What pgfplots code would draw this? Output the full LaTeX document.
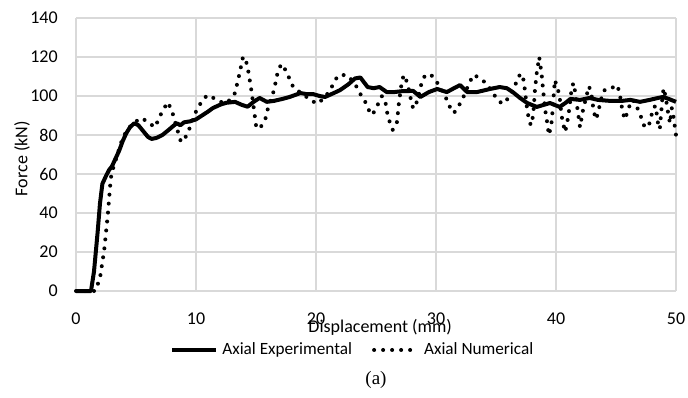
\documentclass[border=0pt]{standalone}
\usepackage{pgfplots}
\pgfplotsset{compat=1.18}
\usepackage{fontspec}
\setmainfont{Carlito}
\newfontfamily\seriffont{Liberation Serif}
\begin{document}
\begin{tikzpicture}
\begin{axis}[
 scale only axis, width=300pt, height=136.5pt,
 xmin=0, xmax=50, ymin=0, ymax=140,
 xtick={0,10,...,50}, ytick={0,20,...,140},
 grid=major, major grid style={draw=black!15, line width=0.75pt},
 axis line style={draw=none}, major tick length=0pt,
 tick label style={font=\fontsize{9}{10.8}\selectfont},
 /pgf/number format/assume math mode=true,
 xticklabel style={yshift=-7.3pt},
 yticklabel style={xshift=-5.6pt},
 xlabel={Displacement (mm)}, ylabel={Force (kN)},
 label style={font=\fontsize{9}{10.8}\selectfont},
 xlabel style={at={(axis description cs:0.507,-0.132)}, anchor=center},
 ylabel style={at={(axis description cs:-0.09,0.485)}, anchor=center},
 legend style={at={(axis description cs:0.463,-0.216)}, anchor=center, draw=none, fill=none,
   font=\fontsize{8.6}{10}\selectfont, /tikz/every even column/.append style={column sep=8pt}},
 legend columns=2,
 legend image code/.code={\draw[#1] (0pt,0pt) -- (22pt,0pt);},
 clip=false,
]
\addplot[black, line width=2pt, line join=round] coordinates {
(0,0) (1.25,0) (1.5,10) (1.8,30) (2.0,45) (2.2,55) (2.5,59) (2.75,62) (3.0,64) (3.3,68) (3.6,72) (3.9,77) (4.2,81) (4.5,84) (4.85,86) (5.2,85) (5.6,82) (6.0,79) (6.3,78) (6.7,78.5) (7.2,80) (7.7,82.5) (8.1,84.6) (8.4,86) (8.7,85) (9.0,86.5) (9.5,87) (10.0,88) (10.5,90) (11.0,92) (11.4,93.8) (12.0,95.5) (12.5,96.5) (13.25,97) (13.8,95.5) (14.3,94.5) (14.8,97) (15.3,99) (15.9,97) (16.5,97.5) (17.2,98.5) (17.8,99.5) (18.7,101.5) (19.2,101) (19.75,101) (20.3,100) (20.75,99.5) (21.3,101) (22,103) (22.7,106) (23.25,109) (23.7,109.5) (24.3,104.6) (24.8,104) (25.3,104.6) (25.9,102) (26.5,102) (27.2,102.5) (28.1,102.6) (28.7,99.5) (29.4,102) (30.1,103.6) (30.9,102) (31.5,104) (32,105.6) (32.6,102) (33.4,102) (34.5,103.6) (35.3,104.6) (35.9,104) (36.4,102) (37,99) (37.6,96.4) (38.4,94.4) (39,95.5) (39.5,96.4) (40.3,94.4) (40.8,96.5) (41.2,98.5) (42,98) (42.8,99) (43.5,98) (44.5,97.5) (45.5,97.5) (46.2,98) (47,97) (47.8,98) (48.5,99) (48.9,99.5) (49.4,98.5) (50,97)
};
\addlegendentry{Axial Experimental}
\addplot[black, line width=2pt, line cap=round, dash pattern=on 0pt off 4.5pt] coordinates {
(0,0) (1.6,0) (1.7,1.5) (2.0,6.7) (2.35,21) (2.65,39) (2.9,58) (3.1,63) (3.5,71) (3.75,76) (4.15,81.5) (4.6,85) (5.0,87) (5.5,88.7) (6.1,86) (6.6,84) (6.9,88.5) (7.25,92.8) (7.65,96.8) (8.0,92.3) (8.4,83.6) (8.75,76.4) (9.2,79.5) (9.5,84) (9.9,90.8) (10.25,95) (10.7,99) (11.0,100.5) (11.6,98.5) (12.0,97) (12.6,96.5) (13.25,101.5) (13.6,110.8) (13.9,119.5) (14.1,120) (14.35,113) (14.65,101.5) (15.0,85) (15.3,83) (15.8,88.7) (16.0,93.8) (16.5,103) (16.8,112) (17.1,116.4) (17.5,113) (17.8,108.7) (18.1,104.6) (18.75,101.5) (19.7,97.4) (20.1,96) (20.6,98.5) (21,101.5) (21.4,105.6) (21.8,110.3) (22.25,110.8) (22.7,110.3) (23.3,105.6) (23.7,101) (24.2,96) (24.5,91.3) (24.7,90.3) (25.1,95) (25.5,100) (25.8,96.4) (26.0,89) (26.4,82.6) (26.75,86.7) (26.9,96) (27.1,105) (27.3,110.8) (27.6,107) (27.9,98.5) (28.1,93.5) (28.45,97.5) (28.8,106.7) (29.1,110.8) (29.6,110.8) (30.25,105.6) (31.0,97) (31.25,92.8) (31.5,91.3) (31.9,95) (32.25,99) (32.7,105.6) (33.1,110.8) (33.4,110) (33.9,108) (34.3,105.6) (34.75,101.5) (35.2,97.4) (35.6,96) (36.1,99.5) (36.6,105.6) (36.9,110.3) (37.2,111.3) (37.35,106) (37.6,92.8) (37.75,88) (37.9,85) (38.1,90) (38.25,103.6) (38.4,112) (38.6,120) (38.8,111.3) (38.95,101.5) (39.1,92.8) (39.3,85) (39.4,80) (39.6,84.6) (39.75,95) (39.9,108.2) (40.1,104.6) (40.3,100) (40.45,90.3) (40.75,81.5) (40.9,85) (41.1,93) (41.3,103.6) (41.45,106.7) (41.6,102) (41.8,92.8) (42.0,84) (42.25,92.8) (42.6,101.5) (42.75,105) (42.95,101) (43.15,91.8) (43.35,88) (43.55,92.8) (43.9,102) (44.15,103.6) (44.6,104) (45.1,105.6) (45.3,101.5) (45.55,91.8) (45.75,88) (46.0,92.8) (46.3,98) (46.6,97) (46.9,91.8) (47.2,87.7) (47.35,84.6) (47.7,84) (47.9,88.7) (48.1,93.8) (48.3,95) (48.5,86) (48.65,83) (48.9,101.5) (49.0,104) (49.2,97) (49.35,91) (49.5,86) (49.65,93.8) (49.8,89) (50.0,80)
};
\addlegendentry{Axial Numerical}
\coordinate (bl) at (rel axis cs:0,0);
\coordinate (tr) at (rel axis cs:1,1);
\node[font=\seriffont\fontsize{9.5}{11}\selectfont] at (axis description cs:0.5,-0.326) {(a)};
\end{axis}
\pgfresetboundingbox
\path ([shift={(-38pt,-53pt)}]bl) rectangle ([shift={(6pt,9pt)}]tr);
\end{tikzpicture}
\end{document}
